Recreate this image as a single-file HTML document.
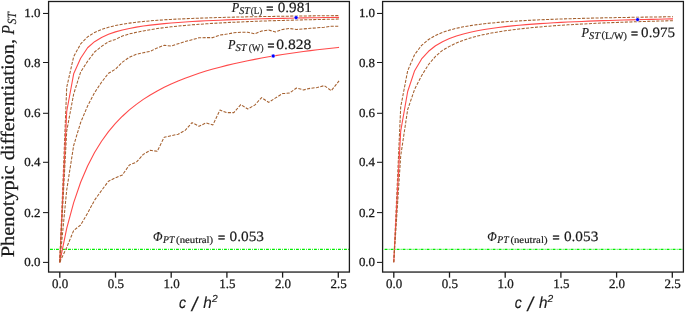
<!DOCTYPE html>
<html lang="en"><head><meta charset="utf-8"><title>PST sensitivity</title>
<style>
html,body{margin:0;padding:0;background:#fff;}
body{width:685px;height:313px;overflow:hidden;}
svg{display:block;text-rendering:geometricPrecision;}
text{font-family:"Liberation Serif",serif;fill:#1a1a1a;stroke:#1a1a1a;stroke-width:0.18px;}
.tk{font-size:13px;stroke-width:0.28px;}
  .tky{font-size:12.4px;}
.an{font-size:13.7px;stroke-width:0.18px;}
.dg{font-size:14.2px;}
.eq{stroke-width:0.55px;}
.it{font-style:italic;}
.sub{font-size:10.3px;}
.sub2{font-size:9.8px;}
.yl{font-size:19px;stroke-width:0.22px;}
.ysub{font-size:12.6px;font-style:italic;}
.yp{font-size:18.2px;}
.xl text{font-family:"Liberation Sans",sans-serif;font-style:italic;font-size:16px;stroke-width:0.15px;}
.xl text.sup{font-size:10.2px;}
.xl text.sl{font-size:20px;}
</style></head><body>
<svg width="685" height="313" viewBox="0 0 685 313">
<rect x="0" y="0" width="685" height="313" fill="#fff"/>
<line x1="50.00" y1="249.45" x2="349.10" y2="249.45" stroke="#00ee00" stroke-width="1.3" stroke-dasharray="2.9 1.2 0.8 1.1"/>
<path d="M59.75 262.30 L66.71 87.31 L73.67 56.66 L80.64 43.90 L87.60 36.91 L94.56 32.50 L101.53 29.46 L108.49 27.24 L115.45 25.55 L122.41 24.21 L129.38 23.14 L136.34 22.25 L143.30 21.50 L150.26 20.87 L157.23 20.32 L164.19 19.84 L171.15 19.42 L178.11 19.05 L185.07 18.72 L192.04 18.43 L199.00 18.16 L205.96 17.92 L212.93 17.70 L219.89 17.50 L226.85 17.31 L233.81 17.14 L240.78 16.98 L247.74 16.84 L254.70 16.70 L261.66 16.58 L268.62 16.46 L275.59 16.35 L282.55 16.24 L289.51 16.15 L296.48 16.05 L303.44 15.97 L310.40 15.88 L317.36 15.81 L324.32 15.73 L331.29 15.66 L338.25 15.60 L339.05 15.59" fill="none" stroke="#a5602f" stroke-width="1.05" stroke-dasharray="3.1 1.4" stroke-linejoin="round"/>
<path d="M59.75 262.30 L66.71 111.50 L73.67 73.78 L80.64 58.30 L87.60 47.77 L94.56 41.69 L101.53 37.44 L108.49 34.30 L115.45 31.88 L122.41 29.97 L129.38 28.42 L136.34 27.13 L143.30 26.05 L150.26 25.13 L157.23 24.33 L164.19 23.63 L171.15 23.02 L178.11 22.48 L185.07 21.99 L192.04 21.56 L199.00 21.17 L205.96 20.81 L212.93 20.48 L219.89 20.19 L226.85 19.91 L233.81 19.66 L240.78 19.43 L247.74 19.21 L254.70 19.01 L261.66 18.82 L268.62 18.65 L275.59 18.48 L282.55 18.33 L289.51 18.18 L296.48 18.05 L303.44 17.92 L310.40 17.80 L317.36 17.68 L324.32 17.57 L331.29 17.47 L338.25 17.37 L339.05 17.36" fill="none" stroke="#ff4a4a" stroke-width="1.1" stroke-linejoin="round"/>
<path d="M59.75 262.30 L66.71 131.11 L73.67 94.00 L80.64 72.00 L87.60 61.30 L94.56 52.00 L101.53 46.40 L108.49 41.70 L115.45 39.40 L122.41 36.00 L129.38 33.90 L136.34 32.36 L143.30 30.91 L150.26 29.67 L157.23 28.59 L164.19 27.65 L171.15 26.82 L178.11 26.09 L185.07 25.43 L192.04 24.84 L199.00 24.30 L205.96 23.82 L212.93 23.37 L219.89 22.97 L226.85 22.59 L233.81 22.25 L240.78 21.93 L247.74 21.63 L254.70 21.35 L261.66 21.10 L268.62 20.85 L275.59 20.63 L282.55 20.42 L289.51 20.22 L296.48 20.03 L303.44 19.85 L310.40 19.68 L317.36 19.52 L324.32 19.37 L331.29 19.23 L338.25 19.09 L339.05 19.08" fill="none" stroke="#a5602f" stroke-width="1.05" stroke-dasharray="3.1 1.4" stroke-linejoin="round"/>
<path d="M59.75 262.30 L66.71 228.36 L73.67 202.56 L80.64 182.29 L87.60 165.95 L94.56 152.49 L101.53 141.22 L108.49 131.63 L115.45 123.39 L122.41 116.22 L129.38 109.92 L136.34 104.36 L143.30 99.40 L150.26 94.95 L157.23 90.94 L164.19 87.31 L171.15 84.00 L178.11 80.98 L185.07 78.20 L192.04 75.65 L199.00 73.28 L205.96 71.10 L212.93 69.06 L219.89 67.16 L226.85 65.39 L233.81 63.74 L240.78 62.18 L247.74 60.72 L254.70 59.34 L261.66 58.04 L268.62 56.82 L275.59 55.65 L282.55 54.55 L289.51 53.51 L296.48 52.51 L303.44 51.57 L310.40 50.67 L317.36 49.81 L324.32 48.99 L331.29 48.21 L338.25 47.46 L339.05 47.37" fill="none" stroke="#ff4a4a" stroke-width="1.1" stroke-linejoin="round"/>
<path d="M59.75 262.20 L66.71 190.00 L73.67 145.50 L80.64 122.50 L87.60 106.00 L94.56 92.70 L101.53 82.30 L108.49 73.30 L115.45 69.20 L122.41 62.10 L129.38 57.20 L136.34 54.30 L143.30 52.80 L150.26 51.30 L157.23 47.90 L164.19 45.30 L171.15 46.00 L178.11 43.80 L185.07 41.60 L192.04 39.70 L199.00 37.80 L205.96 37.60 L212.93 37.60 L219.89 35.10 L226.85 34.10 L233.81 32.80 L240.78 32.20 L247.74 32.20 L254.70 33.80 L261.66 31.00 L268.62 30.10 L275.59 31.90 L282.55 29.40 L289.51 28.50 L296.48 29.50 L303.44 28.90 L310.40 28.30 L317.36 27.80 L324.32 27.20 L331.29 26.30 L338.25 26.30 L339.05 26.30" fill="none" stroke="#a5602f" stroke-width="1.05" stroke-dasharray="3.1 1.4" stroke-linejoin="round"/>
<path d="M59.75 262.20 L66.71 247.50 L73.67 230.50 L80.64 225.00 L87.60 213.20 L94.56 200.20 L101.53 190.50 L108.49 181.20 L115.45 177.80 L122.41 174.90 L129.38 165.00 L136.34 162.20 L143.30 154.40 L150.26 150.30 L157.23 151.30 L164.19 137.20 L171.15 135.80 L178.11 134.20 L185.07 130.50 L192.04 122.60 L199.00 126.30 L205.96 122.90 L212.93 124.90 L219.89 110.10 L226.85 112.60 L233.81 112.60 L240.78 104.60 L247.74 109.00 L254.70 105.10 L261.66 97.60 L268.62 102.40 L275.59 97.90 L282.55 93.60 L289.51 93.10 L296.48 88.00 L303.44 89.90 L310.40 88.30 L317.36 87.50 L324.32 85.60 L331.29 90.70 L338.25 81.90 L339.05 80.89" fill="none" stroke="#a5602f" stroke-width="1.05" stroke-dasharray="3.1 1.4" stroke-linejoin="round"/>
<circle cx="296.10" cy="17.60" r="1.95" fill="#0000ff" stroke="#fff" stroke-width="0.5"/>
<circle cx="273.20" cy="56.00" r="1.95" fill="#0000ff" stroke="#fff" stroke-width="0.5"/>
<rect x="48.58" y="1.50" width="300.82" height="270.55" fill="none" stroke="#1c1c1c" stroke-width="1.3"/>
<line x1="59.80" y1="272.05" x2="59.80" y2="277.65" stroke="#1c1c1c" stroke-width="1.3"/>
<text class="tk" x="60.20" y="288.25" transform="rotate(0.02 60.20 288.25)" text-anchor="middle" textLength="16.2" lengthAdjust="spacingAndGlyphs">0.0</text>
<line x1="115.50" y1="272.05" x2="115.50" y2="277.65" stroke="#1c1c1c" stroke-width="1.3"/>
<text class="tk" x="115.90" y="288.25" transform="rotate(0.02 115.90 288.25)" text-anchor="middle" textLength="16.2" lengthAdjust="spacingAndGlyphs">0.5</text>
<line x1="171.20" y1="272.05" x2="171.20" y2="277.65" stroke="#1c1c1c" stroke-width="1.3"/>
<text class="tk" x="171.60" y="288.25" transform="rotate(0.02 171.60 288.25)" text-anchor="middle" textLength="16.2" lengthAdjust="spacingAndGlyphs">1.0</text>
<line x1="226.90" y1="272.05" x2="226.90" y2="277.65" stroke="#1c1c1c" stroke-width="1.3"/>
<text class="tk" x="227.30" y="288.25" transform="rotate(0.02 227.30 288.25)" text-anchor="middle" textLength="16.2" lengthAdjust="spacingAndGlyphs">1.5</text>
<line x1="282.60" y1="272.05" x2="282.60" y2="277.65" stroke="#1c1c1c" stroke-width="1.3"/>
<text class="tk" x="283.00" y="288.25" transform="rotate(0.02 283.00 288.25)" text-anchor="middle" textLength="16.2" lengthAdjust="spacingAndGlyphs">2.0</text>
<line x1="338.30" y1="272.05" x2="338.30" y2="277.65" stroke="#1c1c1c" stroke-width="1.3"/>
<text class="tk" x="338.70" y="288.25" transform="rotate(0.02 338.70 288.25)" text-anchor="middle" textLength="16.2" lengthAdjust="spacingAndGlyphs">2.5</text>
<line x1="42.98" y1="262.40" x2="48.58" y2="262.40" stroke="#1c1c1c" stroke-width="1.05"/>
<text class="tk tky" x="40.48" y="266.30" transform="rotate(0.02 40.48 266.30)" text-anchor="end" textLength="16.2" lengthAdjust="spacingAndGlyphs">0.0</text>
<line x1="42.98" y1="212.60" x2="48.58" y2="212.60" stroke="#1c1c1c" stroke-width="1.05"/>
<text class="tk tky" x="40.48" y="216.60" transform="rotate(0.02 40.48 216.60)" text-anchor="end" textLength="16.2" lengthAdjust="spacingAndGlyphs">0.2</text>
<line x1="42.98" y1="162.30" x2="48.58" y2="162.30" stroke="#1c1c1c" stroke-width="1.05"/>
<text class="tk tky" x="40.48" y="166.30" transform="rotate(0.02 40.48 166.30)" text-anchor="end" textLength="16.2" lengthAdjust="spacingAndGlyphs">0.4</text>
<line x1="42.98" y1="113.30" x2="48.58" y2="113.30" stroke="#1c1c1c" stroke-width="1.05"/>
<text class="tk tky" x="40.48" y="116.60" transform="rotate(0.02 40.48 116.60)" text-anchor="end" textLength="16.2" lengthAdjust="spacingAndGlyphs">0.6</text>
<line x1="42.98" y1="62.50" x2="48.58" y2="62.50" stroke="#1c1c1c" stroke-width="1.05"/>
<text class="tk tky" x="40.48" y="66.70" transform="rotate(0.02 40.48 66.70)" text-anchor="end" textLength="16.2" lengthAdjust="spacingAndGlyphs">0.8</text>
<line x1="42.98" y1="13.45" x2="48.58" y2="13.45" stroke="#1c1c1c" stroke-width="1.05"/>
<text class="tk tky" x="40.48" y="17.00" transform="rotate(0.02 40.48 17.00)" text-anchor="end" textLength="16.2" lengthAdjust="spacingAndGlyphs">1.0</text>
<line x1="384.60" y1="249.45" x2="683.10" y2="249.45" stroke="#00ee00" stroke-width="1.3" stroke-dasharray="2.9 1.2 0.8 1.1"/>
<path d="M393.75 262.30 L400.71 107.02 L407.68 70.70 L414.64 54.52 L421.60 45.37 L428.56 39.50 L435.52 35.42 L442.49 32.42 L449.45 30.12 L456.41 28.31 L463.38 26.85 L470.34 25.64 L477.30 24.62 L484.26 23.76 L491.23 23.02 L498.19 22.38 L505.15 21.82 L512.11 21.32 L519.08 20.88 L526.04 20.48 L533.00 20.12 L539.96 19.80 L546.92 19.51 L553.89 19.24 L560.85 19.00 L567.81 18.77 L574.77 18.56 L581.74 18.37 L588.70 18.19 L595.66 18.03 L602.62 17.87 L609.59 17.73 L616.55 17.59 L623.51 17.47 L630.48 17.35 L637.44 17.24 L644.40 17.13 L651.36 17.03 L658.33 16.93 L665.29 16.84 L672.25 16.76 L673.05 16.75" fill="none" stroke="#a5602f" stroke-width="1.05" stroke-dasharray="3.1 1.4" stroke-linejoin="round"/>
<path d="M393.75 262.30 L400.71 131.05 L407.68 91.50 L414.64 70.68 L421.60 58.99 L428.56 51.27 L435.52 45.78 L442.49 41.69 L449.45 38.51 L456.41 35.98 L463.38 33.91 L470.34 32.19 L477.30 30.74 L484.26 29.50 L491.23 28.42 L498.19 27.48 L505.15 26.65 L512.11 25.91 L519.08 25.25 L526.04 24.66 L533.00 24.12 L539.96 23.63 L546.92 23.19 L553.89 22.78 L560.85 22.41 L567.81 22.06 L574.77 21.74 L581.74 21.44 L588.70 21.17 L595.66 20.91 L602.62 20.67 L609.59 20.44 L616.55 20.23 L623.51 20.03 L630.48 19.84 L637.44 19.66 L644.40 19.49 L651.36 19.33 L658.33 19.18 L665.29 19.04 L672.25 18.90 L673.05 18.89" fill="none" stroke="#ff4a4a" stroke-width="1.1" stroke-linejoin="round"/>
<path d="M393.75 262.30 L400.71 155.93 L407.68 109.50 L414.64 89.20 L421.60 75.70 L428.56 64.50 L435.52 56.30 L442.49 50.30 L449.45 46.40 L456.41 42.96 L463.38 40.23 L470.34 37.98 L477.30 36.10 L484.26 34.49 L491.23 33.10 L498.19 31.88 L505.15 30.81 L512.11 29.86 L519.08 29.00 L526.04 28.23 L533.00 27.54 L539.96 26.90 L546.92 26.32 L553.89 25.79 L560.85 25.30 L567.81 24.85 L574.77 24.43 L581.74 24.04 L588.70 23.68 L595.66 23.34 L602.62 23.02 L609.59 22.72 L616.55 22.44 L623.51 22.18 L630.48 21.93 L637.44 21.70 L644.40 21.48 L651.36 21.27 L658.33 21.07 L665.29 20.88 L672.25 20.70 L673.05 20.68" fill="none" stroke="#a5602f" stroke-width="1.05" stroke-dasharray="3.1 1.4" stroke-linejoin="round"/>
<circle cx="637.60" cy="19.60" r="1.95" fill="#0000ff" stroke="#fff" stroke-width="0.5"/>
<rect x="382.60" y="1.50" width="300.80" height="270.55" fill="none" stroke="#1c1c1c" stroke-width="1.3"/>
<line x1="393.80" y1="272.05" x2="393.80" y2="277.65" stroke="#1c1c1c" stroke-width="1.3"/>
<text class="tk" x="394.20" y="288.25" transform="rotate(0.02 394.20 288.25)" text-anchor="middle" textLength="16.2" lengthAdjust="spacingAndGlyphs">0.0</text>
<line x1="449.50" y1="272.05" x2="449.50" y2="277.65" stroke="#1c1c1c" stroke-width="1.3"/>
<text class="tk" x="449.90" y="288.25" transform="rotate(0.02 449.90 288.25)" text-anchor="middle" textLength="16.2" lengthAdjust="spacingAndGlyphs">0.5</text>
<line x1="505.20" y1="272.05" x2="505.20" y2="277.65" stroke="#1c1c1c" stroke-width="1.3"/>
<text class="tk" x="505.60" y="288.25" transform="rotate(0.02 505.60 288.25)" text-anchor="middle" textLength="16.2" lengthAdjust="spacingAndGlyphs">1.0</text>
<line x1="560.90" y1="272.05" x2="560.90" y2="277.65" stroke="#1c1c1c" stroke-width="1.3"/>
<text class="tk" x="561.30" y="288.25" transform="rotate(0.02 561.30 288.25)" text-anchor="middle" textLength="16.2" lengthAdjust="spacingAndGlyphs">1.5</text>
<line x1="616.60" y1="272.05" x2="616.60" y2="277.65" stroke="#1c1c1c" stroke-width="1.3"/>
<text class="tk" x="617.00" y="288.25" transform="rotate(0.02 617.00 288.25)" text-anchor="middle" textLength="16.2" lengthAdjust="spacingAndGlyphs">2.0</text>
<line x1="672.30" y1="272.05" x2="672.30" y2="277.65" stroke="#1c1c1c" stroke-width="1.3"/>
<text class="tk" x="672.70" y="288.25" transform="rotate(0.02 672.70 288.25)" text-anchor="middle" textLength="16.2" lengthAdjust="spacingAndGlyphs">2.5</text>
<line x1="377.00" y1="262.40" x2="382.60" y2="262.40" stroke="#1c1c1c" stroke-width="1.05"/>
<text class="tk tky" x="375.10" y="266.30" transform="rotate(0.02 375.10 266.30)" text-anchor="end" textLength="16.2" lengthAdjust="spacingAndGlyphs">0.0</text>
<line x1="377.00" y1="212.60" x2="382.60" y2="212.60" stroke="#1c1c1c" stroke-width="1.05"/>
<text class="tk tky" x="375.10" y="216.60" transform="rotate(0.02 375.10 216.60)" text-anchor="end" textLength="16.2" lengthAdjust="spacingAndGlyphs">0.2</text>
<line x1="377.00" y1="162.30" x2="382.60" y2="162.30" stroke="#1c1c1c" stroke-width="1.05"/>
<text class="tk tky" x="375.10" y="166.30" transform="rotate(0.02 375.10 166.30)" text-anchor="end" textLength="16.2" lengthAdjust="spacingAndGlyphs">0.4</text>
<line x1="377.00" y1="113.30" x2="382.60" y2="113.30" stroke="#1c1c1c" stroke-width="1.05"/>
<text class="tk tky" x="375.10" y="116.60" transform="rotate(0.02 375.10 116.60)" text-anchor="end" textLength="16.2" lengthAdjust="spacingAndGlyphs">0.6</text>
<line x1="377.00" y1="62.50" x2="382.60" y2="62.50" stroke="#1c1c1c" stroke-width="1.05"/>
<text class="tk tky" x="375.10" y="66.70" transform="rotate(0.02 375.10 66.70)" text-anchor="end" textLength="16.2" lengthAdjust="spacingAndGlyphs">0.8</text>
<line x1="377.00" y1="13.45" x2="382.60" y2="13.45" stroke="#1c1c1c" stroke-width="1.05"/>
<text class="tk tky" x="375.10" y="17.00" transform="rotate(0.02 375.10 17.00)" text-anchor="end" textLength="16.2" lengthAdjust="spacingAndGlyphs">1.0</text>
<g class="xl"><text x="179.00" y="307.8" textLength="7.0" lengthAdjust="spacingAndGlyphs">c</text><text class="sl" x="191.70" y="311.3">/</text><text x="203.20" y="307.8" textLength="8.5" lengthAdjust="spacingAndGlyphs">h</text><text class="sup" x="211.90" y="301.7">2</text></g>
<g class="xl"><text x="514.70" y="307.8" textLength="7.0" lengthAdjust="spacingAndGlyphs">c</text><text class="sl" x="527.40" y="311.3">/</text><text x="538.90" y="307.8" textLength="8.5" lengthAdjust="spacingAndGlyphs">h</text><text class="sup" x="547.60" y="301.7">2</text></g>
<g>
<text class="yl" transform="translate(14.25 257.3) rotate(-89.98)" textLength="218.4" lengthAdjust="spacingAndGlyphs">Phenotypic differentiation,</text>
<text class="yl it yp" transform="translate(14.25 34.4) rotate(-89.98)" textLength="9.4" lengthAdjust="spacingAndGlyphs">P</text>
<text class="ysub" transform="translate(16.1 24.3) rotate(-89.98)" textLength="12.1" lengthAdjust="spacingAndGlyphs">ST</text>
</g>
<g><text class="an it" x="231.80" y="12.50" transform="rotate(0.02 231.80 12.50)" textLength="7.50" lengthAdjust="spacingAndGlyphs">P</text><text class="sub it" x="239.20" y="14.30" transform="rotate(0.02 239.20 14.30)" textLength="10.70" lengthAdjust="spacingAndGlyphs">ST</text><text class="sub2" x="250.80" y="14.20" transform="rotate(0.02 250.80 14.20)" textLength="11.60" lengthAdjust="spacingAndGlyphs">(L)</text><text class="an eq" x="266.30" y="13.40" transform="rotate(0.02 266.30 13.40)" textLength="7.10" lengthAdjust="spacingAndGlyphs">=</text><text class="an dg" x="277.70" y="12.30" transform="rotate(0.02 277.70 12.30)" textLength="34.10" lengthAdjust="spacingAndGlyphs">0.981</text></g>
<g><text class="an it" x="227.90" y="49.10" transform="rotate(0.02 227.90 49.10)" textLength="7.50" lengthAdjust="spacingAndGlyphs">P</text><text class="sub it" x="235.50" y="50.90" transform="rotate(0.02 235.50 50.90)" textLength="11.10" lengthAdjust="spacingAndGlyphs">ST</text><text class="sub2" x="248.70" y="50.80" transform="rotate(0.02 248.70 50.80)" textLength="14.90" lengthAdjust="spacingAndGlyphs">(W)</text><text class="an eq" x="267.40" y="50.00" transform="rotate(0.02 267.40 50.00)" textLength="6.90" lengthAdjust="spacingAndGlyphs">=</text><text class="an dg" x="276.30" y="48.90" transform="rotate(0.02 276.30 48.90)" textLength="35.10" lengthAdjust="spacingAndGlyphs">0.828</text></g>
<g><text class="an it" x="581.40" y="36.80" transform="rotate(0.02 581.40 36.80)" textLength="7.50" lengthAdjust="spacingAndGlyphs">P</text><text class="sub it" x="589.00" y="38.60" transform="rotate(0.02 589.00 38.60)" textLength="11.00" lengthAdjust="spacingAndGlyphs">ST</text><text class="sub2" x="601.60" y="38.50" transform="rotate(0.02 601.60 38.50)" textLength="25.40" lengthAdjust="spacingAndGlyphs">(L/W)</text><text class="an eq" x="630.90" y="37.70" transform="rotate(0.02 630.90 37.70)" textLength="7.00" lengthAdjust="spacingAndGlyphs">=</text><text class="an dg" x="641.10" y="36.60" transform="rotate(0.02 641.10 36.60)" textLength="33.90" lengthAdjust="spacingAndGlyphs">0.975</text></g>
<g><text class="an it" x="152.90" y="241.40" transform="rotate(0.02 152.90 241.40)" textLength="9.50" lengthAdjust="spacingAndGlyphs">Φ</text><text class="sub it" x="163.00" y="243.20" transform="rotate(0.02 163.00 243.20)" textLength="11.40" lengthAdjust="spacingAndGlyphs">PT</text><text class="sub2" x="176.10" y="243.10" transform="rotate(0.02 176.10 243.10)" textLength="37.10" lengthAdjust="spacingAndGlyphs">(neutral)</text><text class="an eq" x="218.10" y="242.30" transform="rotate(0.02 218.10 242.30)" textLength="7.10" lengthAdjust="spacingAndGlyphs">=</text><text class="an dg" x="229.60" y="241.20" transform="rotate(0.02 229.60 241.20)" textLength="34.40" lengthAdjust="spacingAndGlyphs">0.053</text></g>
<g><text class="an it" x="487.20" y="241.40" transform="rotate(0.02 487.20 241.40)" textLength="9.50" lengthAdjust="spacingAndGlyphs">Φ</text><text class="sub it" x="497.30" y="243.20" transform="rotate(0.02 497.30 243.20)" textLength="11.40" lengthAdjust="spacingAndGlyphs">PT</text><text class="sub2" x="510.40" y="243.10" transform="rotate(0.02 510.40 243.10)" textLength="37.10" lengthAdjust="spacingAndGlyphs">(neutral)</text><text class="an eq" x="552.40" y="242.30" transform="rotate(0.02 552.40 242.30)" textLength="7.10" lengthAdjust="spacingAndGlyphs">=</text><text class="an dg" x="563.90" y="241.20" transform="rotate(0.02 563.90 241.20)" textLength="34.40" lengthAdjust="spacingAndGlyphs">0.053</text></g>
</svg>
</body></html>
